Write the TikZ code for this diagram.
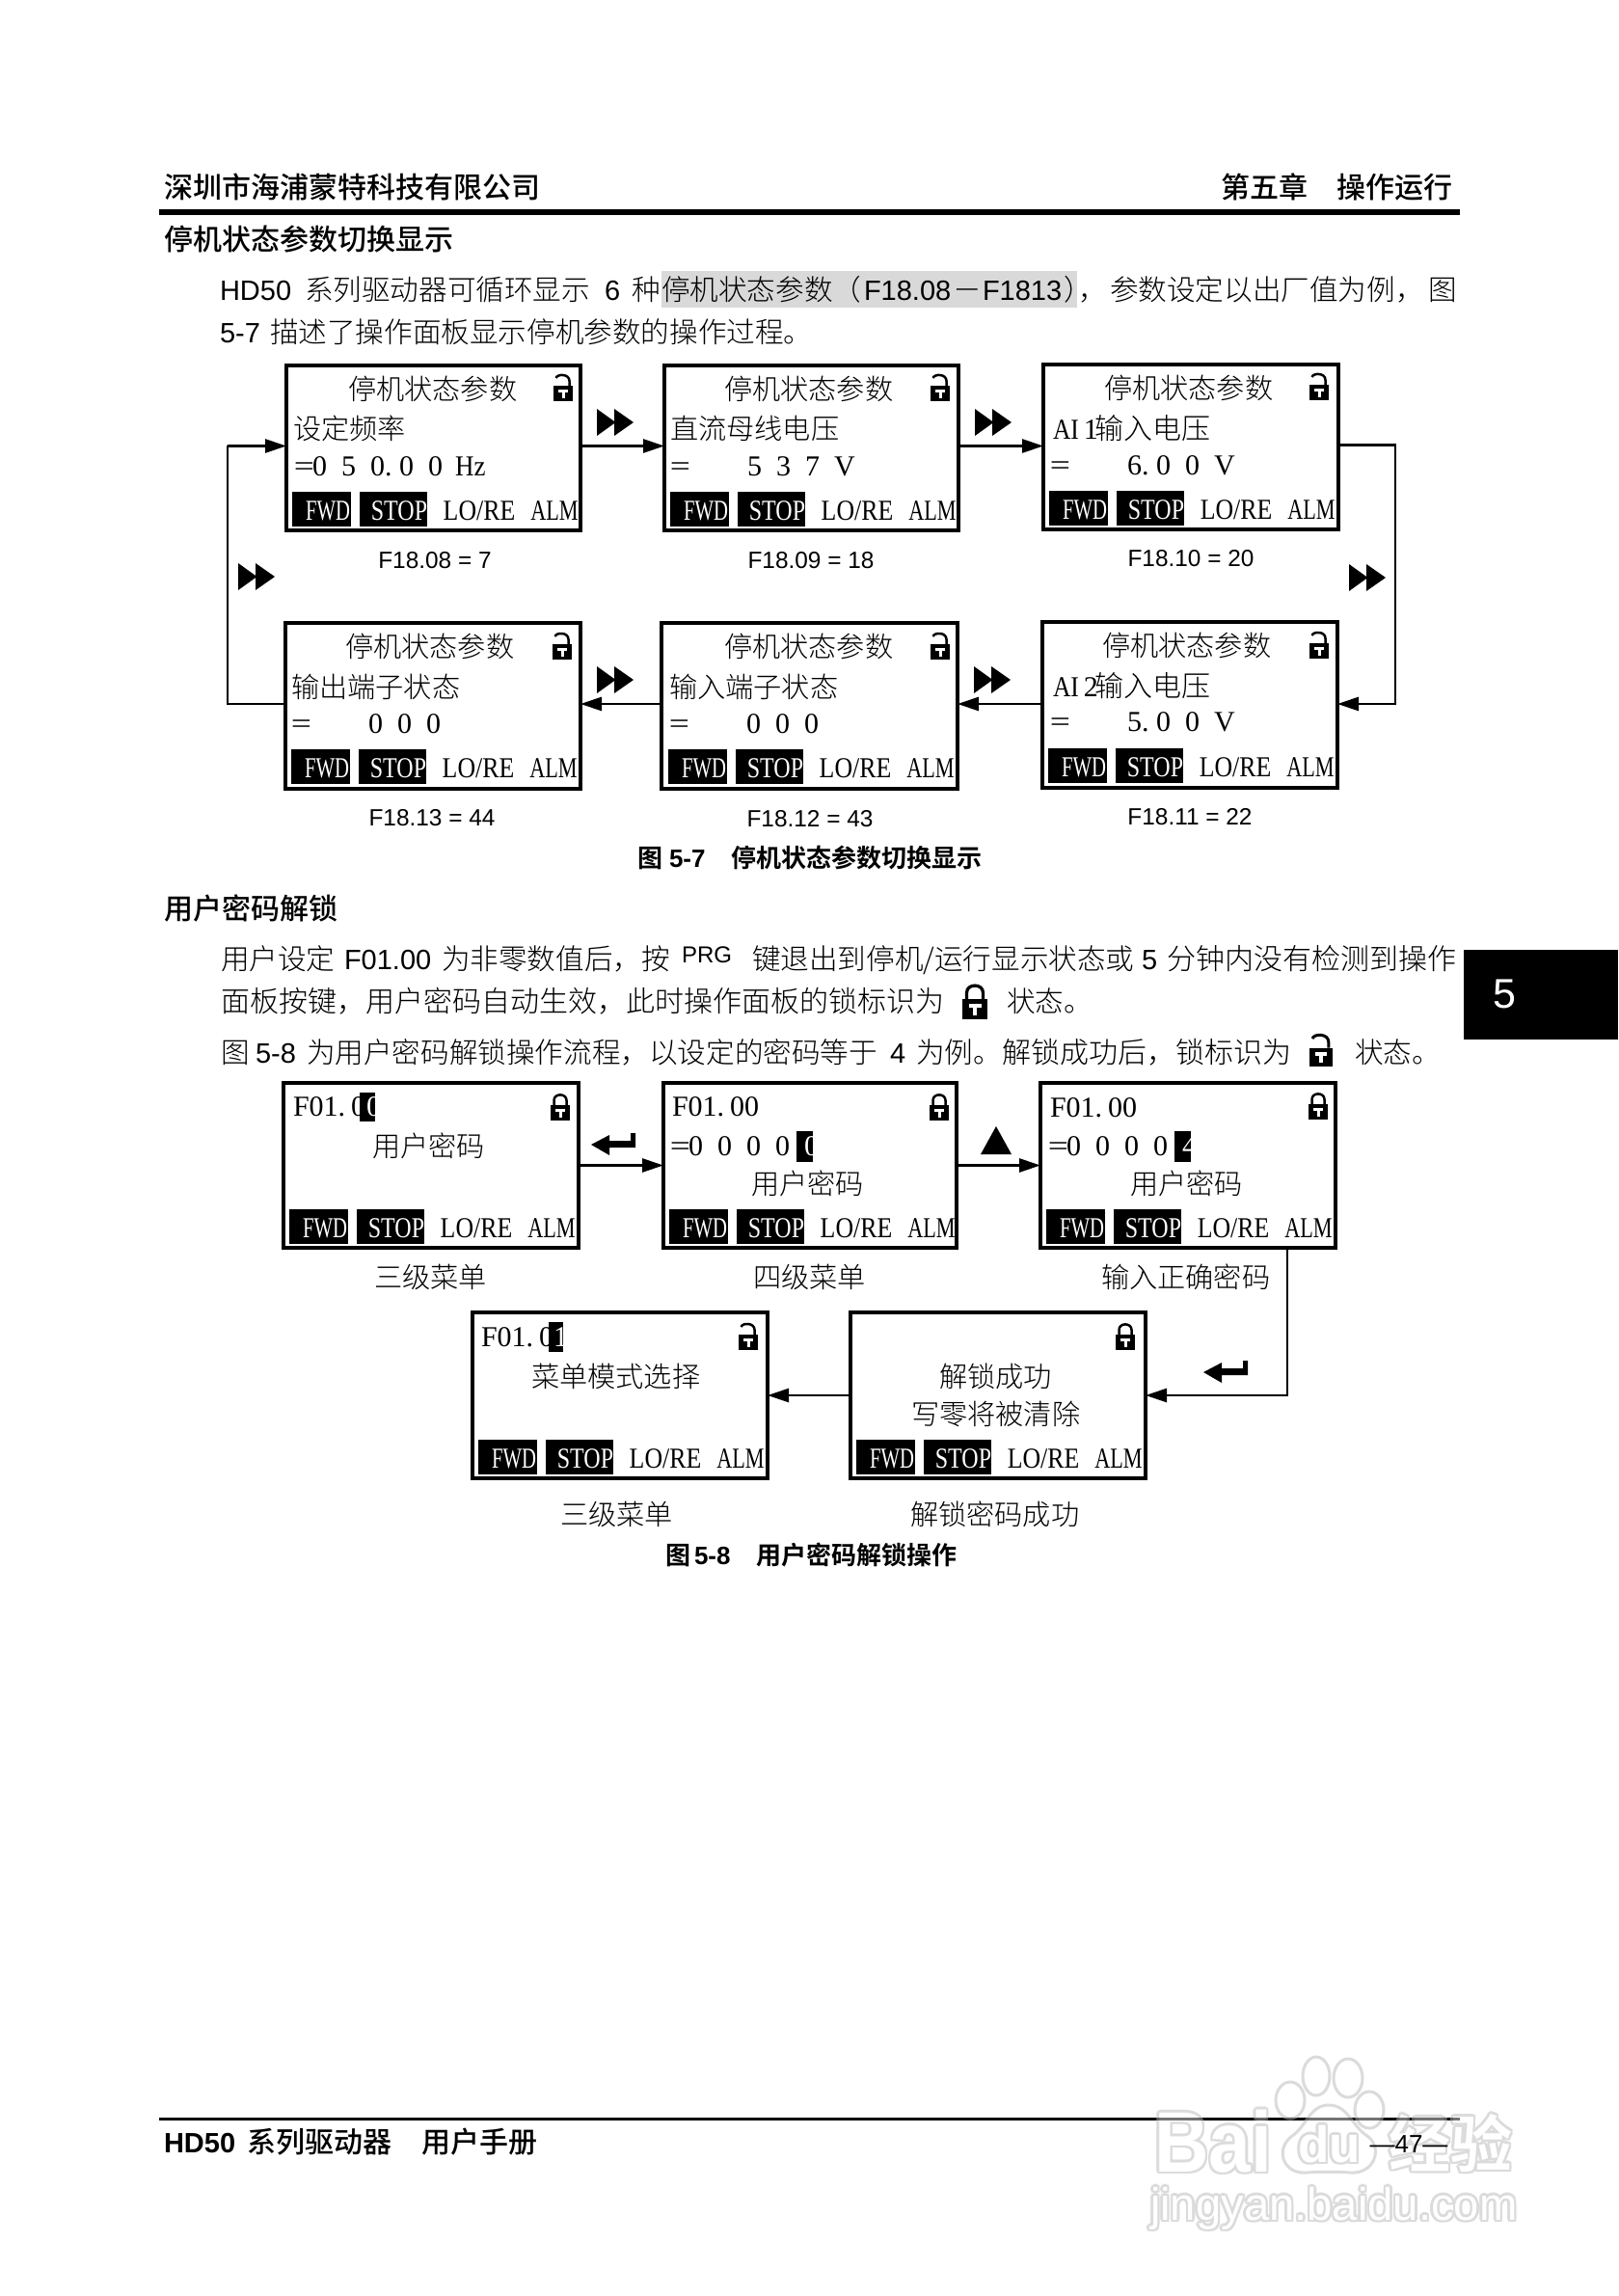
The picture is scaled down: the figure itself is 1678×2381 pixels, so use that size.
\documentclass[tikz,border=0pt]{standalone}
\usepackage{fontspec}
\usetikzlibrary{arrows.meta}
\setmainfont{Liberation Sans}
\newfontfamily\ser{Liberation Serif}
\newfontfamily\cj{Noto Sans CJK SC Light}
\newfontfamily\cjm{Noto Sans CJK SC Medium}
\newfontfamily\cjb{Noto Sans CJK SC Bold}
\newcounter{tn}
\newcommand\gp{\hspace{7.5pt}}
\newcommand\eqs{\makebox[8.5pt][c]{\scalebox{1.25}[1]{=}}}
\tikzset{
  x=0.5pt,y=-0.5pt,
  txt/.style={inner sep=0pt,outer sep=0pt,anchor=base west},
  bodyc/.style={txt,font=\cj\fontsize{14.8pt}{18pt}\selectfont},
  bodyw/.style={txt,font=\cj\fontsize{15pt}{18pt}\selectfont},
  bodyl/.style={txt,font=\fontsize{14.5pt}{18pt}\selectfont},
  headc/.style={txt,font=\cjm\fontsize{15pt}{18pt}\selectfont},
  headb/.style={txt,font=\bfseries\fontsize{14.5pt}{18pt}\selectfont},
  figc/.style={txt,font=\cjb\fontsize{13pt}{16pt}\selectfont},
  figl/.style={txt,font=\bfseries\fontsize{13pt}{16pt}\selectfont},
  lcdc/.style={txt,xshift=-0.5pt,font=\cj\fontsize{14.6pt}{18pt}\selectfont},
  lcdl/.style={txt,font=\ser\fontsize{15pt}{18pt}\selectfont},
  lcdw/.style={lcdl,text=white},
  barl/.style={inner sep=0pt,outer sep=0pt,anchor=base,font=\ser\fontsize{15pt}{18pt}\selectfont},
  eqn/.style={inner sep=0pt,outer sep=0pt,anchor=base,font=\fontsize{12.2pt}{16pt}\selectfont},
  capc/.style={txt,xshift=-0.5pt,font=\cj\fontsize{14.6pt}{18pt}\selectfont},
  panel/.style={draw=black,line width=2pt,fill=white,inner sep=0pt,outer sep=0pt,rectangle},
  conn/.style={line width=1.4pt,-{Triangle[length=11pt,width=7pt]}},
  wmhalo/.style={text=black!14},
  wmtop/.style={text=white},
}
\newcommand\tx[4][lcdl]{\stepcounter{tn}\node[#1] (t\arabic{tn}) at (#2,#3) {#4};}
\newcommand\lcdbox[5]{\node[panel,minimum width={(#4-#2-4)*0.5pt},minimum height={(#5-#3-4)*0.5pt}] (#1) at ({(#2+#4)/2},{(#3+#5)/2}) {};}
\newcommand\statusbar[2]{%
  \fill[black] ({#1+8},{#2+133}) rectangle ({#1+69},{#2+169});
  \fill[black] ({#1+78},{#2+133}) rectangle ({#1+148},{#2+169});
  \tx[barl,text=white]{{#1+45}}{{#2+162}}{\scalebox{.69}[1]{FWD}}
  \tx[barl,text=white]{{#1+119}}{{#2+162}}{\scalebox{.8}[1]{STOP}}
  \tx[barl]{{#1+202}}{{#2+162}}{\scalebox{.86}[1]{LO/RE}}
  \tx[barl]{{#1+280}}{{#2+162}}{\scalebox{.74}[1]{ALM}}
}
\newcommand\lockbody{%
  \fill[black] (0,13) rectangle (20,29);
  \fill[white] (5,17) rectangle (15,20);
  \fill[white] (8.5,20) rectangle (11.5,26);
}
\newcommand\lockclosed[3]{\begin{scope}[shift={(#1,#2)},scale=#3]
  \lockbody
  \draw[line width={#3*1.25pt}] (3.5,13) -- (3.5,8) .. controls (3.5,0.5) and (16.5,0.5) .. (16.5,8) -- (16.5,13);
\end{scope}}
\newcommand\lockopen[3]{\begin{scope}[shift={(#1,#2)},scale=#3]
  \lockbody
  \draw[line width={#3*1.25pt}] (16.5,13) -- (16.5,8) .. controls (16.5,0.5) and (4,0.5) .. (2.5,5);
\end{scope}}
\newcommand\ffw[2]{\fill[black] (#1,#2) -- ({#1+19.5},{#2+14}) -- (#1,{#2+28}) -- cycle
  ({#1+18},#2) -- ({#1+38},{#2+14}) -- ({#1+18},{#2+28}) -- cycle;}
\newcommand\enterkey[2]{\fill[black] (#1,{#2+12}) -- ({#1+19},{#2+2}) -- ({#1+19},{#2+8}) -- ({#1+41},{#2+8}) -- ({#1+41},#2) -- ({#1+46},#2) -- ({#1+46},{#2+15}) -- ({#1+19},{#2+15}) -- ({#1+19},{#2+23}) -- cycle;}
\newcommand\wmtext[4]{% font, x, y, text
  \foreach \dx/\dy in {-2.5/0,2.5/0,0/-2.5,0/2.5,-2/-2,2/-2,-2/2,2/2}{%
    \tx[txt,font=#1,wmhalo]{{#2+\dx}}{{#3+\dy}}{#4}}
  \tx[txt,font=#1,wmtop]{#2}{#3}{#4}
}
\begin{document}
\begin{tikzpicture}
\useasboundingbox (0,0) rectangle (1678,2381);
\fill[white] (0,0) rectangle (1678,2381);

% header
\tx[headc]{170}{205.5}{深圳市海浦蒙特科技有限公司}
\tx[headc]{1266}{205.5}{第五章}
\tx[headc]{1386}{205.5}{操作运行}
\fill[black] (165,217) rectangle (1514,223);
\tx[headc]{170}{259.5}{停机状态参数切换显示}

% paragraph 1
\fill[black!15] (686,281) rectangle (1117,319);
\tx[bodyl]{228}{311}{HD50}
\tx[bodyc]{316}{311}{系列驱动器可循环显示}
\tx[bodyl]{627}{311}{6}
\tx[bodyc]{655}{311}{种}
\tx[bodyc]{686}{311}{停机状态参数（}
\tx[bodyl]{896}{311}{F18.08}
\tx[bodyc]{988}{311}{－}
\tx[bodyl]{1019}{311}{F1813}
\tx[bodyc]{1103}{311}{）}
\tx[bodyc]{1118}{311}{，}
\tx[bodyc]{1151}{311}{参数设定以出厂值为例，}
\tx[bodyc]{1481}{311}{图}
\tx[bodyl]{228}{355}{5-7}
\tx[bodyc]{280}{355}{描述了操作面板显示停机参数的操作过程。}

% figure 5-7 panels
\lcdbox{b1}{295}{377}{604}{552}
\lcdbox{b2}{687}{377}{996}{552}
\lcdbox{b3}{1080}{376}{1390}{551}
\lcdbox{b4}{294}{644}{604}{820}
\lcdbox{b5}{684}{644}{995}{820}
\lcdbox{b6}{1079}{643}{1389}{819}
\statusbar{295}{377}
\statusbar{687}{377}
\statusbar{1080}{376}
\statusbar{294}{644}
\statusbar{685}{644}
\statusbar{1079}{643}
\tx[lcdc]{362}{414}{停机状态参数}
\tx[lcdc]{752}{414}{停机状态参数}
\tx[lcdc]{1146}{413}{停机状态参数}
\tx[lcdc]{359}{681}{停机状态参数}
\tx[lcdc]{752}{681}{停机状态参数}
\tx[lcdc]{1144}{680}{停机状态参数}
\lockopen{574}{387}{1}
\lockopen{965}{387}{1}
\lockopen{1358}{386}{1}
\lockopen{573}{655}{1}
\lockopen{965}{655}{1}
\lockopen{1358}{654}{1}
\tx[lcdc]{305}{455}{设定频率}
\tx[lcdc]{696}{455}{直流母线电压}
\tx[lcdl]{1092}{455}{\makebox[21.5pt][l]{\scalebox{.85}[1]{AI}\,1}{\cj 输入电压}}
\tx[lcdc]{303}{723}{输出端子状态}
\tx[lcdc]{695}{723}{输入端子状态}
\tx[lcdl]{1092}{722}{\makebox[21.5pt][l]{\scalebox{.85}[1]{AI}\,2}{\cj 输入电压}}
\tx[lcdl]{307}{493}{\eqs 0\gp5\gp0.\hspace{3.75pt}0\gp0\hspace{6.5pt}\scalebox{.9}[1]{Hz}}
\tx[lcdl]{697}{493}{\eqs\hspace{30.5pt}5\gp3\gp7\gp V}
\tx[lcdl]{1091}{492}{\eqs\hspace{30.5pt}6.\hspace{3.75pt}0\gp0\gp V}
\tx[lcdl]{304}{760}{\eqs\hspace{30.5pt}0\gp0\gp0}
\tx[lcdl]{696}{760}{\eqs\hspace{30.5pt}0\gp0\gp0}
\tx[lcdl]{1091}{758}{\eqs\hspace{30.5pt}5.\hspace{3.75pt}0\gp0\gp V}
\tx[eqn]{451}{589}{F18.08 = 7}
\tx[eqn]{841}{589}{F18.09 = 18}
\tx[eqn]{1235}{587.5}{F18.10 = 20}
\tx[eqn]{448}{856.5}{F18.13 = 44}
\tx[eqn]{840}{857}{F18.12 = 43}
\tx[eqn]{1234}{855}{F18.11 = 22}

% figure 5-7 connectors
\coordinate (leftcol) at (236,462);
\coordinate (rightcol) at (1447,462);
\draw[conn] ([yshift=1pt]b1.east) -- ([yshift=1pt]b1.east -| b2.west);
\draw[conn] ([yshift=1pt]b2.east) -- ([yshift=1pt]b2.east -| b3.west);
\draw[conn] ([yshift=1pt]b3.east) -| (rightcol) |- ([yshift=1pt]b5.east -| b6.east);
\draw[conn] ([yshift=1pt]b5.east -| b6.west) -- ([yshift=1pt]b5.east);
\draw[conn] ([yshift=1pt]b5.west) -- ([yshift=1pt]b4.east);
\draw[conn] ([yshift=1pt]b4.west) -| (leftcol) |- ([yshift=1pt]b1.west);
\ffw{619}{424}
\ffw{1011}{424}
\ffw{247}{584}
\ffw{1399}{585}
\ffw{619}{691}
\ffw{1010}{691}

\tx[figc]{661}{899.5}{图}
\tx[figl]{694}{899.5}{5-7}
\tx[figc]{758}{899.5}{停机状态参数切换显示}

% section 2
\tx[headc]{170}{953}{用户密码解锁}
\tx[bodyc]{229}{1005.5}{用户设定}
\tx[bodyl]{357}{1005.5}{F01.00}
\tx[bodyc]{458}{1005.5}{为非零数值后，按}
\tx[txt,font=\fontsize{12pt}{14pt}\selectfont]{707}{998}{PRG}
\tx[bodyc]{780}{1005.5}{键退出到停机/运行显示状态或}
\tx[bodyl]{1184}{1005.5}{5}
\tx[bodyw]{1210}{1005.5}{分钟内没有检测到操作}
\tx[bodyw]{229}{1049}{面板按键，用户密码自动生效，此时操作面板的锁标识为}
\lockclosed{998}{1019}{1.3}
\tx[bodyc]{1044}{1049}{状态。}
\tx[bodyc]{229}{1102}{图}
\tx[bodyl]{265}{1102}{5-8}
\tx[bodyc]{318}{1102}{为用户密码解锁操作流程，以设定的密码等于}
\tx[bodyl]{923}{1102}{4}
\tx[bodyc]{950}{1102}{为例。}
\tx[bodyw]{1039}{1102}{解锁成功后，锁标识为}
\lockopen{1358}{1071}{1.2}
\tx[bodyc]{1405}{1102}{状态。}

% side tab
\node[fill=black,inner sep=0pt,outer sep=0pt,minimum width=80pt,minimum height=46.5pt] (tab) at (1598,1031.5) {};
\tx[txt,font=\fontsize{21.5pt}{24pt}\selectfont,text=white]{1548}{1045}{5}

% figure 5-8 panels
\lcdbox{c1}{292}{1121}{602}{1296}
\lcdbox{c2}{686}{1121}{994}{1296}
\lcdbox{c3}{1077}{1121}{1387}{1296}
\lcdbox{c4}{488}{1359}{798}{1535}
\lcdbox{c5}{880}{1359}{1190}{1535}
\statusbar{292}{1121}
\statusbar{686}{1121}
\statusbar{1077}{1121}
\statusbar{488}{1360}
\statusbar{880}{1360}
\lockclosed{571}{1133}{1}
\lockclosed{964}{1133}{1}
\lockclosed{1357}{1132}{1}
\lockopen{766}{1371}{1}
\lockclosed{1157}{1371}{1}

\tx[lcdl]{304}{1157}{F01.\hspace{3pt}0}
\fill[black] (373,1133) rectangle (389,1163);
\tx[lcdw]{380}{1157}{0}
\tx[lcdc]{387}{1199}{用户密码}

\tx[lcdl]{697}{1157}{F01.\hspace{3pt}00}
\tx[lcdl]{697}{1198}{\eqs 0\gp0\gp0\gp0}
\fill[black] (826,1173) rectangle (843,1205);
\tx[lcdw]{834}{1198}{0}
\tx[lcdc]{780}{1238}{用户密码}

\tx[lcdl]{1089}{1158}{F01.\hspace{3pt}00}
\tx[lcdl]{1089}{1198}{\eqs 0\gp0\gp0\gp0}
\fill[black] (1218,1173) rectangle (1235,1205);
\tx[lcdw]{1226}{1198}{4}
\tx[lcdc]{1173}{1238}{用户密码}

\tx[lcdl]{499}{1396}{F01.\hspace{3pt}0}
\fill[black] (569,1371) rectangle (584,1402);
\tx[lcdw]{574}{1396}{1}
\tx[lcdc]{552}{1438}{菜单模式选择}

\tx[lcdc]{975}{1438}{解锁成功}
\tx[lcdc]{946}{1477}{写零将被清除}

\tx[capc]{389}{1335}{三级菜单}
\tx[capc]{782}{1335}{四级菜单}
\tx[capc]{1143}{1335}{输入正确密码}
\tx[capc]{582}{1581}{三级菜单}
\tx[capc]{945}{1581}{解锁密码成功}

% figure 5-8 connectors
\coordinate (downcol) at (1335,1447);
\draw[conn] (c1.east) -- (c2.west);
\draw[conn] (c2.east) -- (c3.west);
\draw[conn] (c3.south -| downcol) -- (downcol) -- (c5.east);
\draw[conn] (c5.west) -- (c4.east);
\enterkey{613}{1175}
\enterkey{1248}{1411}
\fill[black] (1017,1197) -- (1033,1168) -- (1049,1197) -- cycle;

\tx[figc]{690}{1622}{图}
\tx[figl]{720}{1622}{5-8}
\tx[figc]{784}{1622}{用户密码解锁操作}

% footer
\fill[black] (165,2195.5) rectangle (1514,2198.5);
\tx[headb]{170}{2232}{HD50}
\tx[headc]{256}{2232}{系列驱动器}
\tx[headc]{437}{2232}{用户手册}

% watermark
\foreach \cx/\cy/\rx/\ry in {1365/2153/14/20,1398/2155/15/20,1338/2178/15/19,1420/2188/15/19}{
  \draw[black!14,line width=1.5pt,fill=white] (\cx,\cy) ellipse [x radius=\rx,y radius=\ry];
}
\draw[black!14,line width=1.5pt,fill=white] (1378,2183) .. controls (1398,2183) and (1402,2205) .. (1418,2215) .. controls (1435,2228) and (1425,2255) .. (1400,2253) .. controls (1388,2252) and (1368,2252) .. (1355,2253) .. controls (1330,2255) and (1322,2228) .. (1340,2215) .. controls (1355,2205) and (1358,2183) .. (1378,2183) -- cycle;
\wmtext{\bfseries\fontsize{44.5pt}{50pt}\selectfont}{1197}{2252}{\scalebox{.88}[1]{Bai}}
\wmtext{\bfseries\fontsize{26.5pt}{30pt}\selectfont}{1346}{2242}{du}
\wmtext{\cjb\fontsize{32pt}{36pt}\selectfont}{1440}{2247}{经验}
\wmtext{\fontsize{23.6pt}{30pt}\selectfont}{1193}{2302}{jingyan.baidu.com}
\fill[black,opacity=.55] (1197,2195.5) rectangle (1514,2198.5);

\tx[barl,font=\fontsize{13pt}{16pt}\selectfont]{1461}{2232}{—47—}
\end{tikzpicture}
\end{document}
